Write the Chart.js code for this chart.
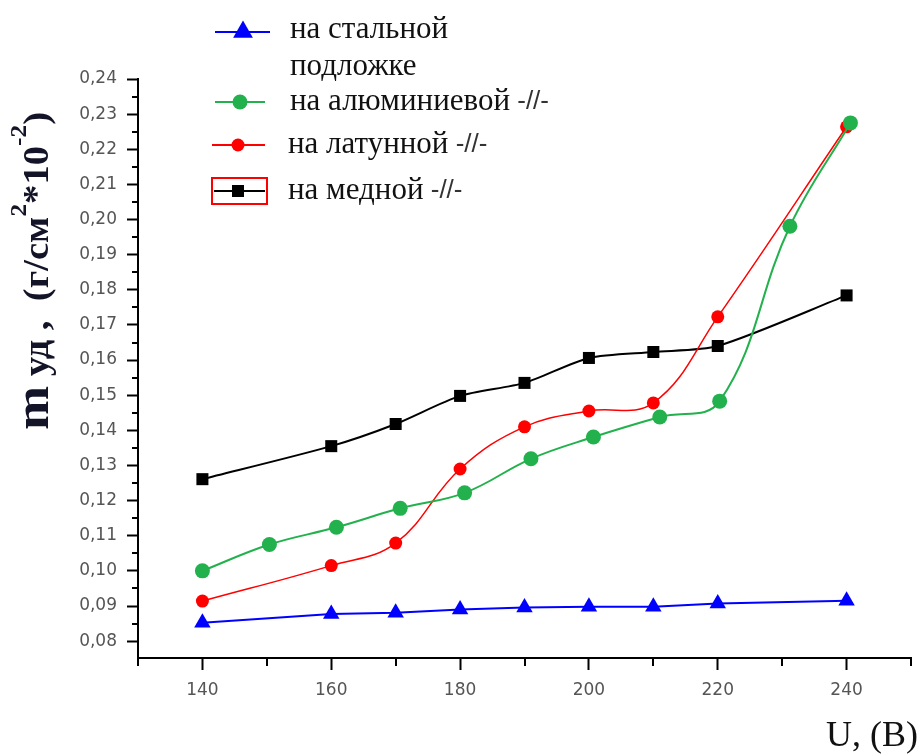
<!DOCTYPE html>
<html>
<head>
<meta charset="utf-8">
<script src="https://cdn.jsdelivr.net/npm/chart.js@4.4.1/dist/chart.umd.min.js"></script>
<style>
  html, body { margin: 0; padding: 0; background: #fff; }
</style>
</head>
<body>
<canvas id="chart" width="921" height="756"></canvas>
<script>
// voltage, V (aluminium points sit a bit off the round values)
const voltage = [140, 160, 170, 180, 190, 200, 210, 220, 240]
const voltageAl = [140, 150.4, 160.8, 170.7, 180.7, 191, 200.7, 211, 220.3, 231.2, 240.6]

// specific mass, g/cm2 * 10^-2
const steel = [0.0852, 0.0877, 0.0881, 0.0890, 0.0896, 0.0898, 0.0898, 0.0907, 0.0915]
const aluminium = [0.1000, 0.1075, 0.1124, 0.1178, 0.1222, 0.1319, 0.1381, 0.1438, 0.1483, 0.1981, 0.2275]
const brass = [0.0914, 0.1015, 0.1079, 0.1290, 0.1410, 0.1455, 0.1478, 0.1723, 0.2264]
const copper = [0.1261, 0.1355, 0.1418, 0.1498, 0.1535, 0.1606, 0.1623, 0.1640, 0.1784]

const seriesLabels = ['на стальной подложке', 'на алюминиевой -//-', 'на латунной -//-', 'на медной -//-']
const legendLines = [['на стальной', 'подложке'], ['на алюминиевой'], ['на латунной'], ['на медной']]
const legendSuffix = ['', ' -//-', ' -//-', ' -//-']

const xTitle = 'U, (B)'
const yTitleText = ['m', ' уд ,', '  (г/см', '2', '*10', '-2', ')']

const toPoints = (xs, ys) => xs.map((x, i) => ({x: x, y: ys[i]}))
const isMajorX = v => Math.round(v) % 20 === 0
const isMajorY = v => Math.round(v * 1000) % 10 === 0

// short ticks between the labelled ones
const minorTicks = {
  id: 'minorTicks',
  afterDraw(chart) {
    const ctx = chart.ctx
    const xs = chart.scales.x
    const ys = chart.scales.y
    ctx.save()
    ctx.strokeStyle = '#000'
    ctx.lineWidth = 2
    ctx.beginPath()
    ys.ticks.forEach(t => {
      if (isMajorY(t.value)) return
      const py = Math.round(ys.getPixelForValue(t.value))
      ctx.moveTo(ys.right - 6, py)
      ctx.lineTo(ys.right, py)
    })
    xs.ticks.forEach(t => {
      if (isMajorX(t.value)) return
      const px = Math.round(xs.getPixelForValue(t.value))
      ctx.moveTo(px, xs.top)
      ctx.lineTo(px, xs.top + 8)
    })
    ctx.stroke()
    ctx.restore()
  }
}

// axis titles (y title has superscripts, so drawn by hand)
const axisTitles = {
  id: 'axisTitles',
  afterDraw(chart) {
    const ctx = chart.ctx
    ctx.save()
    ctx.fillStyle = '#111'
    ctx.font = '36px "Liberation Serif"'
    ctx.textAlign = 'right'
    ctx.textBaseline = 'alphabetic'
    ctx.fillText(xTitle, 918, 746)
    ctx.restore()

    const style = [
      {size: 48, rise: 0}, {size: 35, rise: 0}, {size: 35, rise: 0},
      {size: 23, rise: 22}, {size: 35, rise: 0}, {size: 23, rise: 22}, {size: 35, rise: 0}
    ]
    ctx.save()
    ctx.fillStyle = '#141428'
    ctx.textAlign = 'left'
    ctx.textBaseline = 'alphabetic'
    let total = 0
    const widths = yTitleText.map((t, i) => {
      ctx.font = 'bold ' + style[i].size + 'px "Liberation Serif"'
      const w = ctx.measureText(t).width
      total += w
      return w
    })
    ctx.translate(48, 430)
    ctx.rotate(-Math.PI / 2)
    ctx.scale(318 / total, 1)
    let pos = 0
    yTitleText.forEach((t, i) => {
      ctx.font = 'bold ' + style[i].size + 'px "Liberation Serif"'
      ctx.fillText(t, pos, -style[i].rise)
      pos += widths[i]
    })
    ctx.restore()
  }
}

// legend in the upper left corner
const legendBox = {
  id: 'legendBox',
  afterDraw(chart) {
    const ctx = chart.ctx
    const rows = [
      {y: 32, x1: 215, x2: 270, mx: 243, tx: 290, base: 38, sizeMul: 1.2},
      {y: 102, x1: 215, x2: 265, mx: 240, tx: 290, base: 110, sizeMul: 1},
      {y: 145, x1: 212, x2: 265, mx: 238, tx: 288, base: 153, sizeMul: 1},
      {y: 191, x1: 214, x2: 265, mx: 238, tx: 288, base: 199, sizeMul: 1}
    ]
    ctx.save()
    // box around the copper entry
    ctx.strokeStyle = '#ff0000'
    ctx.lineWidth = 2
    ctx.strokeRect(212, 178, 55, 26)
    rows.forEach((r, i) => {
      const ds = chart.data.datasets[i]
      ctx.strokeStyle = ds.borderColor
      ctx.lineWidth = 2
      ctx.beginPath()
      ctx.moveTo(r.x1, r.y)
      ctx.lineTo(r.x2, r.y)
      ctx.stroke()
      ctx.fillStyle = ds.pointBackgroundColor
      Chart.helpers.drawPoint(ctx, {pointStyle: ds.pointStyle, radius: ds.pointRadius * r.sizeMul, rotation: 0, borderWidth: 0}, r.mx, r.y)
      ctx.fillStyle = '#111'
      ctx.textAlign = 'left'
      ctx.textBaseline = 'alphabetic'
      ctx.font = '31px "Liberation Serif"'
      legendLines[i].forEach((line, k) => {
        ctx.fillText(line, r.tx, r.base + k * 37)
      })
      if (legendSuffix[i]) {
        const w = ctx.measureText(legendLines[i][0]).width
        ctx.font = '26px "Liberation Sans"'
        ctx.fillStyle = '#333'
        ctx.fillText(legendSuffix[i], r.tx + w, r.base - 1)
      }
    })
    ctx.restore()
  }
}

new Chart('chart', {
  type: 'line',
  data: {
    datasets: [
      {
        label: seriesLabels[0],
        data: toPoints(voltage, steel),
        borderColor: '#0000ff',
        pointBackgroundColor: '#0000ff',
        pointStyle: 'triangle',
        pointRadius: 9.5,
        pointBorderWidth: 0,
        borderWidth: 2,
        tension: 0
      },
      {
        label: seriesLabels[1],
        data: toPoints(voltageAl, aluminium),
        borderColor: '#22b14c',
        pointBackgroundColor: '#22b14c',
        pointStyle: 'circle',
        pointRadius: 7.5,
        pointBorderWidth: 0,
        borderWidth: 2,
        tension: 0.4
      },
      {
        label: seriesLabels[2],
        data: toPoints(voltage, brass),
        borderColor: '#ff0000',
        pointBackgroundColor: '#ff0000',
        pointStyle: 'circle',
        pointRadius: 6.5,
        pointBorderWidth: 0,
        borderWidth: 1.5,
        tension: 0.4
      },
      {
        label: seriesLabels[3],
        data: toPoints(voltage, copper),
        borderColor: '#000000',
        pointBackgroundColor: '#000000',
        pointStyle: 'rect',
        pointRadius: 8.5,
        pointBorderWidth: 0,
        borderWidth: 2,
        tension: 0.25
      }
    ]
  },
  options: {
    responsive: false,
    animation: false,
    layout: {padding: {left: 0, top: 79, right: 10, bottom: 0}},
    plugins: {
      legend: {display: false},
      tooltip: {enabled: false},
      title: {display: false}
    },
    scales: {
      x: {
        type: 'linear',
        min: 130,
        max: 250,
        ticks: {
          stepSize: 10,
          autoSkip: false,
          maxRotation: 0,
          padding: 10,
          color: '#555',
          font: {family: 'DejaVu Sans', size: 17},
          callback: v => isMajorX(v) ? String(v) : ''
        },
        grid: {
          drawOnChartArea: false,
          tickLength: 12,
          tickWidth: 2,
          tickColor: c => isMajorX(c.tick.value) ? '#000' : 'rgba(0,0,0,0)'
        },
        border: {color: '#000', width: 2},
        afterFit: s => { s.height = 98 }
      },
      y: {
        type: 'linear',
        min: 0.0752,
        max: 0.24,
        ticks: {
          stepSize: 0.005,
          includeBounds: false,
          autoSkip: false,
          padding: 10,
          color: '#555',
          font: {family: 'DejaVu Sans', size: 17},
          callback: v => isMajorY(v) ? v.toFixed(2).replace('.', ',') : ''
        },
        grid: {
          drawOnChartArea: false,
          tickLength: 11,
          tickWidth: 2,
          tickColor: c => isMajorY(c.tick.value) ? '#000' : 'rgba(0,0,0,0)'
        },
        border: {color: '#000', width: 2},
        afterFit: s => { s.width = 138 }
      }
    }
  },
  plugins: [minorTicks, axisTitles, legendBox]
})
</script>
</body>
</html>
